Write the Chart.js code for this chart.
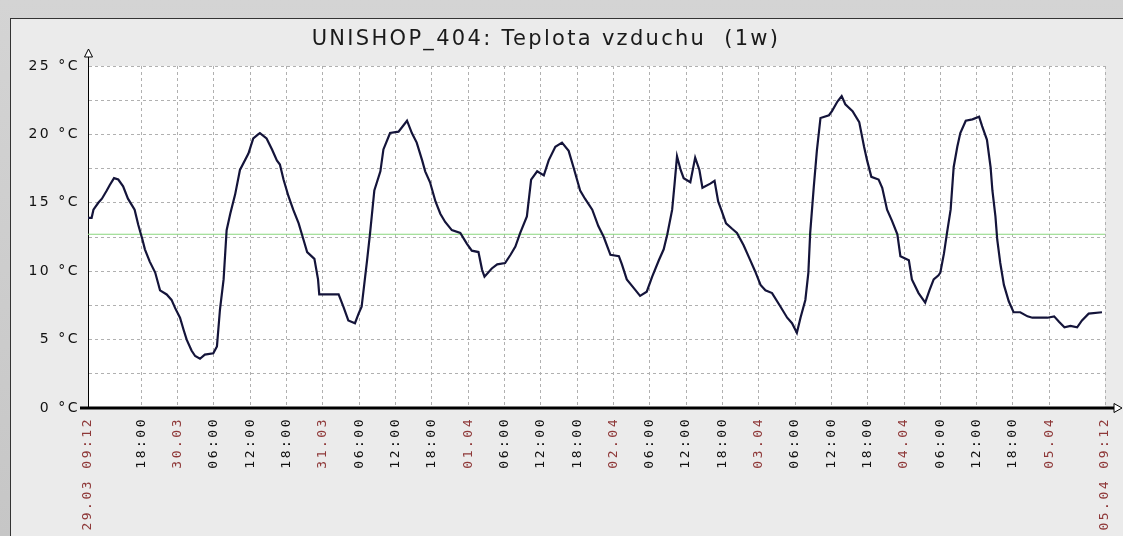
<!DOCTYPE html>
<html>
<head>
<meta charset="UTF-8">
<title>UNISHOP_404: Teplota vzduchu (1w)</title>
<script src="https://cdn.jsdelivr.net/npm/chart.js"></script>
<style>
body { margin:0; width:1123px; height:536px; overflow:hidden; background:linear-gradient(#d4d4d4, #c6c6c6); font-family:"DejaVu Sans", sans-serif; }
#panel { position:absolute; left:10px; top:18px; width:1125px; height:530px; background:#ebebeb; border-left:1px solid #333; border-top:1px solid #333; }
#title { position:absolute; left:0; top:7px; width:1070px; text-align:center; font-size:21px; letter-spacing:2.3px; color:#1a1a1a; white-space:pre; }
</style>
</head>
<body>
<div id="panel">
  <canvas id="tempChart" width="1112" height="517"></canvas>
  <div id="title">UNISHOP_404: Teplota vzduchu  (1w)</div>
</div>

<script>
// hodiny od 29.03 09:12
const hours = [0, 0.6, 0.9, 1.7, 2.3, 3.1, 3.6, 4.3, 5.0, 5.8, 6.6, 7.7, 8.3, 9.0, 9.4, 10.2, 11.1, 11.9, 13.0, 13.8,
  14.4, 15.2, 15.8, 16.3, 17.1, 17.7, 18.5, 19.3, 20.7, 21.3, 21.8, 22.4, 22.9, 23.5, 24.3, 25.1, 26.5, 27.3, 28.1, 28.4,
  29.5, 30.4, 31.2, 31.7, 32.3, 33.1, 33.9, 34.8, 35.6, 36.2, 37.4, 38.0, 38.2, 41.4, 42.2, 43.0, 44.1, 44.7, 45.2, 46.1,
  46.6, 47.3, 48.3, 48.8, 49.9, 51.3, 52.7, 53.5, 54.3, 55.2, 55.7, 56.5, 57.4, 58.2, 59.0, 60.1, 61.5, 62.6, 63.4, 64.5,
  65.1, 65.5, 66.7, 67.6, 68.9, 69.8, 70.6, 71.4, 72.5, 73.2, 74.2, 75.3, 76.1, 77.2, 78.3, 79.4, 80.2, 81.3, 82.1, 83.3,
  84.3, 85.2, 86.3, 87.7, 88.2, 89.0, 90.1, 91.2, 92.3, 93.2, 94.3, 95.1, 95.7, 96.5, 96.9, 97.3, 97.9, 98.4, 99.5, 100.3,
  101.0, 101.5, 102.8, 103.5, 104.1, 104.6, 105.4, 106.4, 107.2, 108.3, 109.3, 110.2, 111.1, 111.9, 113.0, 114.4, 115.5, 116.3, 117.1, 117.7,
  118.5, 119.0, 119.3, 119.9, 120.4, 121.0, 122.4, 122.9, 123.8, 124.5, 125.1, 126.3, 127.4, 128.2, 128.7, 129.4, 130.6, 131.2, 132.0, 132.8,
  133.7, 134.2, 135.6, 136.1, 137.2, 138.3, 139.0, 139.7, 140.5, 140.8, 141.4, 141.9, 142.5, 143.0, 143.6, 144.1, 145.0, 146.1, 147.2, 147.7,
  148.5, 149.1, 149.4, 149.9, 150.2, 150.7, 151.3, 152.1, 152.9, 154.0, 155.2, 156.0, 157.4, 158.5, 159.6, 160.4, 161.3, 162.3, 163.4, 164.2,
  165.3, 167.5];
const temps = [13.9, 13.9, 14.5, 15.0, 15.3, 15.9, 16.3, 16.8, 16.7, 16.2, 15.3, 14.5, 13.4, 12.3, 11.6, 10.7, 9.9, 8.6, 8.3, 7.9,
  7.3, 6.6, 5.7, 5.0, 4.2, 3.8, 3.6, 3.9, 4.0, 4.5, 7.2, 9.4, 13.0, 14.2, 15.6, 17.4, 18.6, 19.7, 20.0, 20.1,
  19.7, 18.9, 18.1, 17.8, 16.7, 15.5, 14.5, 13.5, 12.3, 11.4, 10.9, 9.4, 8.3, 8.3, 7.4, 6.4, 6.2, 6.9, 7.4, 10.8,
  12.8, 15.9, 17.3, 18.9, 20.1, 20.2, 21.0, 20.1, 19.4, 18.1, 17.3, 16.5, 15.1, 14.2, 13.6, 13.0, 12.8, 12.0, 11.5, 11.4,
  10.1, 9.6, 10.2, 10.5, 10.6, 11.2, 11.8, 12.8, 14.0, 16.7, 17.3, 17.0, 18.1, 19.1, 19.4, 18.8, 17.6, 15.9, 15.3, 14.5,
  13.3, 12.5, 11.2, 11.1, 10.5, 9.4, 8.8, 8.2, 8.5, 9.6, 10.8, 11.6, 12.7, 14.5, 16.4, 18.4, 17.4, 16.8, 16.5, 18.3,
  17.4, 16.1, 16.4, 16.6, 15.1, 14.5, 13.5, 13.1, 12.8, 11.9, 10.9, 10.0, 9.0, 8.6, 8.4, 7.4, 6.6, 6.2, 5.5, 6.6,
  7.9, 9.9, 12.8, 16.2, 18.8, 21.2, 21.4, 21.7, 22.4, 22.8, 22.2, 21.7, 20.9, 19.1, 18.1, 16.9, 16.7, 16.1, 14.5, 13.7,
  12.7, 11.1, 10.8, 9.4, 8.4, 7.7, 8.6, 9.4, 9.7, 9.9, 11.3, 12.8, 14.5, 17.6, 19.1, 20.1, 21.0, 21.1, 21.3, 20.6,
  19.6, 17.6, 15.9, 14.0, 12.3, 10.6, 9.0, 7.8, 7.0, 7.0, 6.7, 6.6, 6.6, 6.6, 6.7, 6.3, 5.9, 6.0, 5.9, 6.4,
  6.9, 7.0];
const meanTemp = 12.7;

const tickHours = [0, 8.8, 14.8, 20.8, 26.8, 32.8, 38.8, 44.8, 50.8, 56.8, 62.8, 68.8, 74.8, 80.8,
  86.8, 92.8, 98.8, 104.8, 110.8, 116.8, 122.8, 128.8, 134.8, 140.8, 146.8, 152.8, 158.8, 168];
const tickLabels = ['29.03 09:12', '18:00', '30.03', '06:00', '12:00', '18:00', '31.03', '06:00', '12:00', '18:00',
  '01.04', '06:00', '12:00', '18:00', '02.04', '06:00', '12:00', '18:00', '03.04', '06:00', '12:00', '18:00',
  '04.04', '06:00', '12:00', '18:00', '05.04', '05.04 09:12'];
const yTicks = [0, 2.5, 5, 7.5, 10, 12.5, 15, 17.5, 20, 22.5, 25];

// bílé pozadí grafu + šipky os
const plotDecor = {
  id: 'plotDecor',
  beforeDraw(chart) {
    const {ctx, chartArea: a} = chart;
    ctx.save();
    ctx.fillStyle = '#fff';
    ctx.fillRect(a.left, a.top, a.right - a.left, a.bottom - a.top);
    ctx.restore();
    ctx.letterSpacing = '2.5px';
  },
  afterDraw(chart) {
    const {ctx, chartArea: a} = chart;
    ctx.letterSpacing = '0px';
    ctx.save();
    ctx.strokeStyle = '#000';
    ctx.fillStyle = '#fff';
    ctx.lineWidth = 1;
    const lx = Math.round(a.left) + 0.5;
    ctx.beginPath(); ctx.moveTo(lx, a.top); ctx.lineTo(lx, a.top - 9); ctx.stroke();
    ctx.beginPath(); ctx.moveTo(lx, a.top - 17); ctx.lineTo(lx - 4, a.top - 9); ctx.lineTo(lx + 4, a.top - 9);
    ctx.closePath(); ctx.fill(); ctx.stroke();
    ctx.lineWidth = 3;
    ctx.beginPath(); ctx.moveTo(a.left - 8, a.bottom); ctx.lineTo(a.right + 9, a.bottom); ctx.stroke();
    const tx = a.right + 9;
    ctx.lineWidth = 1;
    ctx.beginPath(); ctx.moveTo(tx, a.bottom - 4.5); ctx.lineTo(tx + 8, a.bottom); ctx.lineTo(tx, a.bottom + 4.5);
    ctx.closePath(); ctx.fill(); ctx.stroke();
    ctx.restore();
  }
};

new Chart(document.getElementById('tempChart'), {
  type: 'line',
  data: {
    datasets: [{
      data: hours.map((h, i) => ({x: h, y: temps[i]})),
      borderColor: '#14143a',
      borderWidth: 2.2,
      pointRadius: 0,
      tension: 0
    }, {
      data: [{x: 0, y: meanTemp}, {x: 168, y: meanTemp}],
      borderColor: '#8bd67f',
      borderWidth: 1,
      pointRadius: 0
    }]
  },
  options: {
    responsive: false,
    animation: false,
    layout: { padding: { top: 47, right: 18, left: 0, bottom: 0 } },
    plugins: { legend: { display: false }, tooltip: { enabled: false } },
    scales: {
      x: {
        type: 'linear', min: 0, max: 168,
        afterBuildTicks: s => { s.ticks = tickHours.map(v => ({value: v})); },
        afterFit: s => { s.height = 128; s.paddingLeft = 0; s.paddingRight = 0; },
        ticks: {
          autoSkip: false, minRotation: 90, maxRotation: 90, padding: 9,
          font: { family: 'DejaVu Sans Mono', size: 13 },
          color: c => tickLabels[c.index].includes('.') ? '#8e3838' : '#111',
          callback: (v, i) => tickLabels[i]
        },
        grid: { color: '#b0b0b0', drawTicks: false },
        border: { display: false, dash: [3, 3] }
      },
      y: {
        min: 0, max: 25,
        afterBuildTicks: s => { s.ticks = yTicks.map(v => ({value: v})); },
        afterFit: s => { s.width = 77; s.paddingTop = 0; s.paddingBottom = 0; },
        ticks: {
          padding: 8,
          font: { family: 'DejaVu Sans', size: 14 },
          color: '#111',
          callback: v => v % 5 === 0 ? v + ' °C' : ''
        },
        grid: { color: '#b0b0b0', drawTicks: false },
        border: { color: '#000', width: 1, dash: [3, 3] }
      }
    }
  },
  plugins: [plotDecor]
});
</script>
</body>
</html>
